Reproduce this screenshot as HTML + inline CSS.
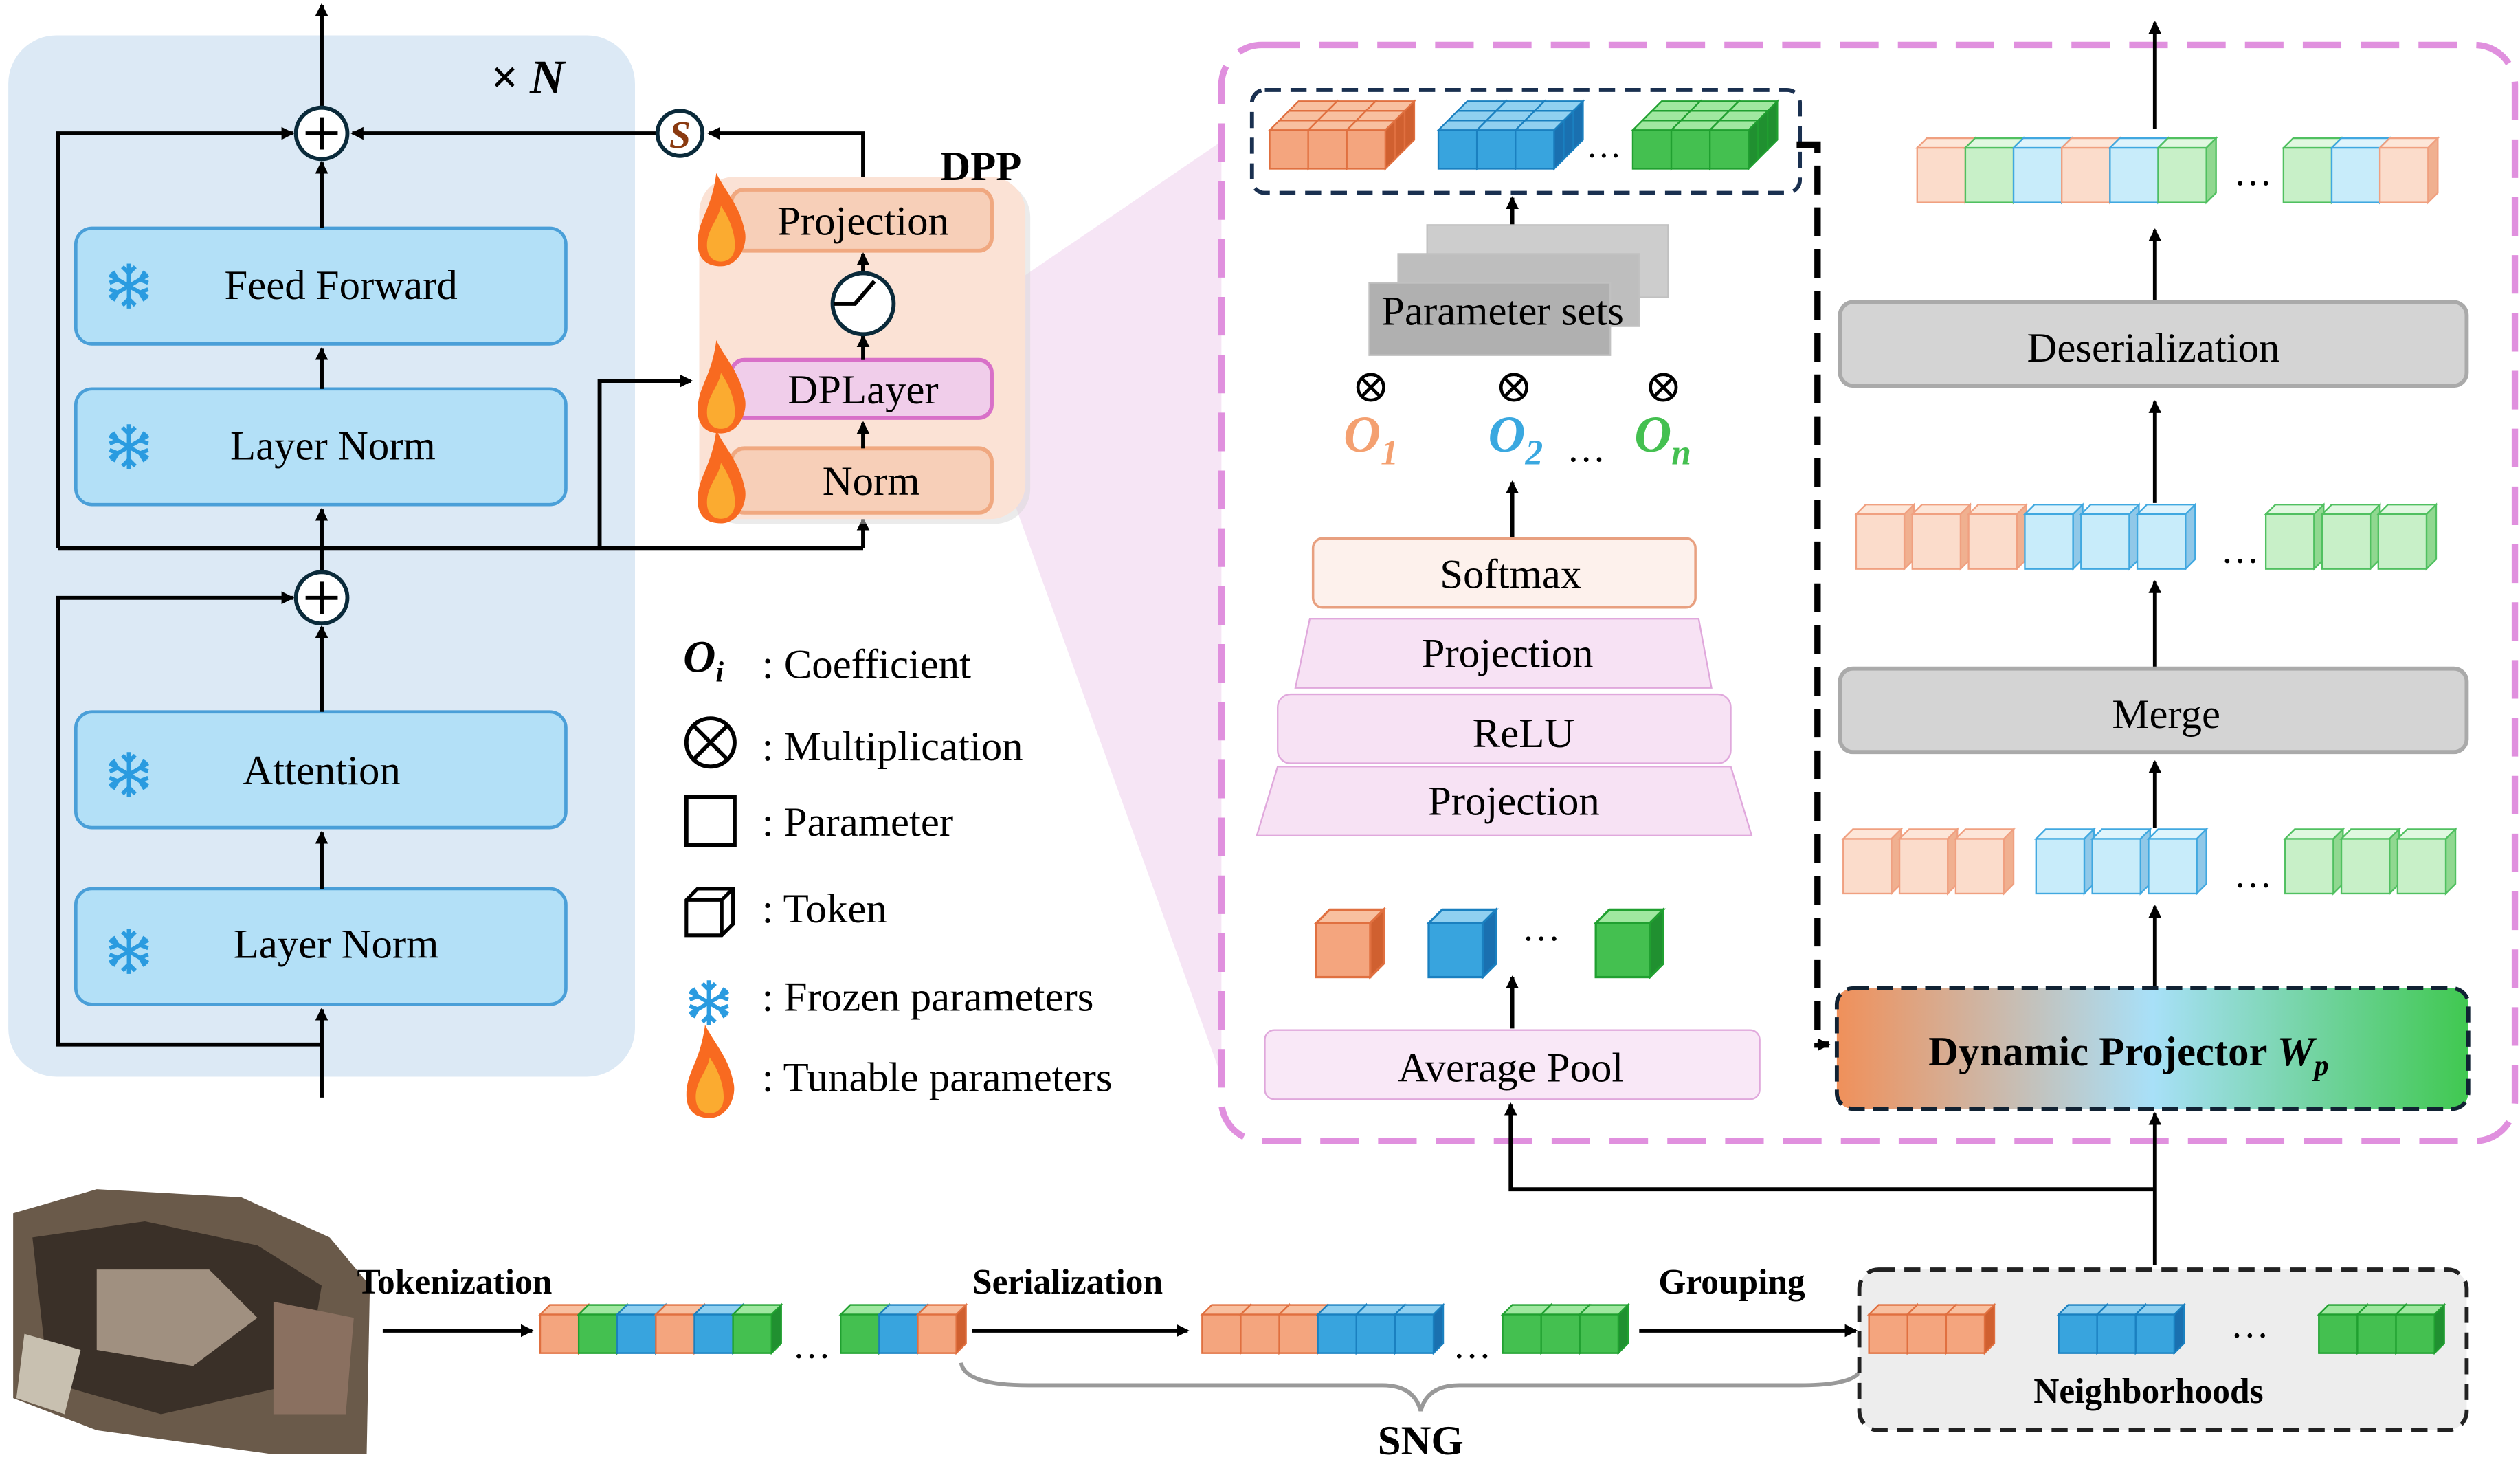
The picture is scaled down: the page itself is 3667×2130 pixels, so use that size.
<!DOCTYPE html>
<html><head><meta charset="utf-8"><style>
html,body{margin:0;padding:0;background:#fff}
svg{display:block}
text{font-family:"Liberation Serif",serif}
</style></head><body>
<svg width="3667" height="2130" viewBox="0 0 1568 911" xmlns="http://www.w3.org/2000/svg">
<defs>
<marker id="ar" markerWidth="8" markerHeight="8" refX="7" refY="4" orient="auto" markerUnits="userSpaceOnUse"><path d="M0,0 L8,4 L0,8z" fill="#000"/></marker>
<g id="co"><path d="M0,6 l6,-6 h24 l-6,6z" fill="#f8c0a0" stroke="#e07040"/><path d="M24,6 l6,-6 v24 l-6,6z" fill="#d06030" stroke="#e07040"/><rect x="0" y="6" width="24" height="24" fill="#f4a57e" stroke="#e07040"/></g>
<g id="cb"><path d="M0,6 l6,-6 h24 l-6,6z" fill="#90d0f0" stroke="#1a80c0"/><path d="M24,6 l6,-6 v24 l-6,6z" fill="#1a70b0" stroke="#1a80c0"/><rect x="0" y="6" width="24" height="24" fill="#38a4de" stroke="#1a80c0"/></g>
<g id="cg"><path d="M0,6 l6,-6 h24 l-6,6z" fill="#a0e8a0" stroke="#20a030"/><path d="M24,6 l6,-6 v24 l-6,6z" fill="#209030" stroke="#20a030"/><rect x="0" y="6" width="24" height="24" fill="#44c050" stroke="#20a030"/></g>
<g id="lo"><path d="M0,6 l6,-6 h30 l-6,6z" fill="#fde6d8" stroke="#f0a080"/><path d="M30,6 l6,-6 v34 l-6,6z" fill="#f0b090" stroke="#f0a080"/><rect x="0" y="6" width="30" height="34" fill="#fbdccb" stroke="#f0a080"/></g>
<g id="lb"><path d="M0,6 l6,-6 h30 l-6,6z" fill="#dff4fc" stroke="#40a8e0"/><path d="M30,6 l6,-6 v34 l-6,6z" fill="#90c8e8" stroke="#40a8e0"/><rect x="0" y="6" width="30" height="34" fill="#c8ecfa" stroke="#40a8e0"/></g>
<g id="lg"><path d="M0,6 l6,-6 h30 l-6,6z" fill="#e0f8e0" stroke="#50c060"/><path d="M30,6 l6,-6 v34 l-6,6z" fill="#90d890" stroke="#50c060"/><rect x="0" y="6" width="30" height="34" fill="#c8f0c8" stroke="#50c060"/></g>
<g id="flame"><g transform="scale(1.45)"><path d="M0,16 C0,6 6,2 8,-14 C12,-6 18,0 20,10 C22,16 18,26 10,26 C3,26 0,22 0,16z" fill="#f86a20"/><path d="M4,17 C4,10 9,6 10,0 C14,6 16,12 16,17 C16,22 13,24 10,24 C6,24 4,21 4,17z" fill="#fbab30"/></g></g>
<g id="snow" stroke="#2a9be0" stroke-width="2.5" fill="none"><path d="M0,-14 V14 M-12,-7 L12,7 M-12,7 L12,-7 M-4,-12 L0,-8 L4,-12 M-4,12 L0,8 L4,12 M-12,-2 L-7,-4 L-10,-9 M12,2 L7,4 L10,9 M-12,2 L-7,4 L-10,9 M12,-2 L7,-4 L10,-9"/></g>
<linearGradient id="dyn" x1="0" x2="1"><stop offset="0" stop-color="#f0905a"/><stop offset="0.5" stop-color="#a8e0f8"/><stop offset="1" stop-color="#40c850"/></linearGradient>
</defs>

<!-- left panel -->
<rect x="5" y="22" width="390" height="648" rx="30" fill="#dce9f5"/>
<text x="305" y="58" font-size="30" font-style="italic" font-weight="bold">× N</text>
<g fill="#b3e0f7" stroke="#4a9fd8" stroke-width="2">
<rect x="47" y="142" width="305" height="72" rx="10"/>
<rect x="47" y="242" width="305" height="72" rx="10"/>
<rect x="47" y="443" width="305" height="72" rx="10"/>
<rect x="47" y="553" width="305" height="72" rx="10"/>
</g>
<use href="#snow" x="80" y="178"/><use href="#snow" x="80" y="278"/><use href="#snow" x="80" y="482"/><use href="#snow" x="80" y="592"/>
<g font-size="26" text-anchor="middle">
<text x="212" y="186">Feed Forward</text>
<text x="207" y="286">Layer Norm</text>
<text x="200" y="488">Attention</text>
<text x="209" y="596">Layer Norm</text>
</g>
<g stroke="#000" stroke-width="2.5" fill="none">
<line x1="200" y1="683" x2="200" y2="628" marker-end="url(#ar)"/>
<polyline points="200,650 36,650 36,372 182,372" marker-end="url(#ar)"/>
<line x1="200" y1="553" x2="200" y2="518" marker-end="url(#ar)"/>
<line x1="200" y1="443" x2="200" y2="390" marker-end="url(#ar)"/>
<line x1="200" y1="356" x2="200" y2="317" marker-end="url(#ar)"/>
<line x1="200" y1="242" x2="200" y2="217" marker-end="url(#ar)"/>
<line x1="200" y1="142" x2="200" y2="101" marker-end="url(#ar)"/>
<line x1="200" y1="67" x2="200" y2="3" marker-end="url(#ar)"/>
<polyline points="36,341 36,83 182,83" marker-end="url(#ar)"/>
<line x1="36" y1="341" x2="537" y2="341"/>
<line x1="537" y1="341" x2="537" y2="323" marker-end="url(#ar)"/>
<polyline points="373,341 373,237 430,237" marker-end="url(#ar)"/>
<line x1="409" y1="83" x2="219" y2="83" marker-end="url(#ar)"/>
</g>
<circle cx="200" cy="83" r="16" fill="#fff" stroke="#0a2a3a" stroke-width="2.5"/>
<path d="M190,83 h20 M200,73 v20" stroke="#000" stroke-width="2.5"/>
<circle cx="200" cy="372" r="16" fill="#fff" stroke="#0a2a3a" stroke-width="2.5"/>
<path d="M190,372 h20 M200,362 v20" stroke="#000" stroke-width="2.5"/>
<circle cx="423" cy="83" r="14" fill="#fff" stroke="#0a2a3a" stroke-width="2.5"/>
<text x="423" y="92" font-size="24" font-style="italic" font-weight="bold" fill="#8a3a10" text-anchor="middle">S</text>

<!-- zoom wedge -->
<polygon points="625,180 760,88 760,670 630,310" fill="#f5e1f3" opacity="0.85"/>

<!-- DPP -->
<rect x="438" y="113" width="203" height="213" rx="22" fill="#d8d8d8" opacity="0.5"/>
<rect x="435" y="110" width="203" height="213" rx="22" fill="#fbe2d5"/>
<text x="585" y="112" font-size="26" font-weight="bold" font-family="Liberation Sans,sans-serif">DPP</text>
<polyline points="537,110 537,83 441,83" stroke="#000" stroke-width="2.5" fill="none" marker-end="url(#ar)"/>
<rect x="455" y="118" width="162" height="38" rx="8" fill="#f7cfb8" stroke="#f0a880" stroke-width="2.5"/>
<rect x="455" y="224" width="162" height="36" rx="8" fill="#f0cdea" stroke="#d870c8" stroke-width="2.5"/>
<rect x="455" y="279" width="162" height="40" rx="8" fill="#f7cfb8" stroke="#f0a880" stroke-width="2.5"/>
<text x="537" y="146" font-size="26" text-anchor="middle">Projection</text>
<text x="537" y="251" font-size="26" text-anchor="middle">DPLayer</text>
<text x="542" y="308" font-size="26" text-anchor="middle">Norm</text>
<use href="#flame" x="434" y="128"/><use href="#flame" x="434" y="232"/><use href="#flame" x="434" y="288"/>
<g stroke="#000" stroke-width="2.5" fill="none">
<line x1="537" y1="279" x2="537" y2="263" marker-end="url(#ar)"/>
<line x1="537" y1="224" x2="537" y2="209" marker-end="url(#ar)"/>
<line x1="537" y1="170" x2="537" y2="158" marker-end="url(#ar)"/>
</g>
<ellipse cx="537" cy="189" rx="19" ry="19" fill="#fff" stroke="#0a2a3a" stroke-width="2.5"/>
<path d="M519,189 h13 l12,-14" stroke="#000" stroke-width="2.5" fill="none"/>

<!-- legend -->
<text x="425" y="418" font-size="28" font-style="italic" font-weight="bold">O<tspan font-size="18" dy="6">i</tspan></text>
<g font-size="26">
<text x="474" y="422">: Coefficient</text>
<text x="474" y="473">: Multiplication</text>
<text x="474" y="520">: Parameter</text>
<text x="474" y="574">: Token</text>
<text x="474" y="629">: Frozen parameters</text>
<text x="474" y="679">: Tunable parameters</text>
</g>
<circle cx="442" cy="462" r="15" fill="none" stroke="#000" stroke-width="2.5"/>
<path d="M431,451 l22,22 M453,451 l-22,22" stroke="#000" stroke-width="2.5"/>
<rect x="427" y="496" width="30" height="30" fill="none" stroke="#000" stroke-width="2.5"/>
<path d="M427,560 l7,-7 h22 v22 l-7,7 h-22z M427,560 h22 v22 M449,560 l7,-7" fill="none" stroke="#000" stroke-width="2.2"/>
<use href="#snow" x="441" y="624"/>
<use href="#flame" x="427" y="658"/>

<!-- right dashed box -->
<rect x="760" y="28" width="805" height="682" rx="25" fill="none" stroke="#e090de" stroke-width="4" stroke-dasharray="24,12"/>

<!-- top param group -->
<rect x="779" y="56" width="341" height="64" rx="8" fill="none" stroke="#1a3050" stroke-width="2.5" stroke-dasharray="10,6"/>
<g>
<use href="#co" x="802" y="63"/><use href="#co" x="826" y="63"/><use href="#co" x="850" y="63"/>
<use href="#co" x="796" y="69"/><use href="#co" x="820" y="69"/><use href="#co" x="844" y="69"/>
<use href="#co" x="790" y="75"/><use href="#co" x="814" y="75"/><use href="#co" x="838" y="75"/>
<use href="#cb" x="907" y="63"/><use href="#cb" x="931" y="63"/><use href="#cb" x="955" y="63"/>
<use href="#cb" x="901" y="69"/><use href="#cb" x="925" y="69"/><use href="#cb" x="949" y="69"/>
<use href="#cb" x="895" y="75"/><use href="#cb" x="919" y="75"/><use href="#cb" x="943" y="75"/>
<use href="#cg" x="1028" y="63"/><use href="#cg" x="1052" y="63"/><use href="#cg" x="1076" y="63"/>
<use href="#cg" x="1022" y="69"/><use href="#cg" x="1046" y="69"/><use href="#cg" x="1070" y="69"/>
<use href="#cg" x="1016" y="75"/><use href="#cg" x="1040" y="75"/><use href="#cg" x="1064" y="75"/>
</g>
<text x="998" y="98" font-size="22" text-anchor="middle">…</text>
<line x1="941" y1="140" x2="941" y2="123" stroke="#000" stroke-width="2.5" marker-end="url(#ar)"/>
<!-- parameter sets -->
<g fill="#c8c8c8" stroke="#bbb" opacity="0.9">
<rect x="888" y="140" width="150" height="45"/><rect x="870" y="158" width="150" height="45" fill="#b8b8b8"/><rect x="852" y="176" width="150" height="45" fill="#a8a8a8"/>
</g>
<text x="935" y="202" font-size="26" text-anchor="middle">Parameter sets</text>
<g stroke="#000" stroke-width="2" fill="none">
<circle cx="853" cy="241" r="8"/><path d="M847,235 l12,12 M859,235 l-12,12"/>
<circle cx="942" cy="241" r="8"/><path d="M936,235 l12,12 M948,235 l-12,12"/>
<circle cx="1035" cy="241" r="8"/><path d="M1029,235 l12,12 M1041,235 l-12,12"/>
</g>
<g font-size="32" font-style="italic" font-weight="bold">
<text x="836" y="281" fill="#f4a070">O<tspan font-size="22" dy="8">1</tspan></text>
<text x="926" y="281" fill="#3aa8e0">O<tspan font-size="22" dy="8">2</tspan></text>
<text x="1017" y="281" fill="#44c050">O<tspan font-size="22" dy="8">n</tspan></text>
</g>
<text x="975" y="287" font-size="24">…</text>
<line x1="941" y1="335" x2="941" y2="300" stroke="#000" stroke-width="2.5" marker-end="url(#ar)"/>
<rect x="817" y="335" width="238" height="43" rx="6" fill="#fdf1ec" stroke="#e8a080" stroke-width="1.5"/>
<text x="940" y="366" font-size="26" text-anchor="middle">Softmax</text>
<polygon points="815,385 1057,385 1065,428 806,428" fill="#f7e2f4" stroke="#e0a8dc"/>
<text x="938" y="415" font-size="26" text-anchor="middle">Projection</text>
<rect x="795" y="432" width="282" height="43" rx="8" fill="#f7e2f4" stroke="#e0a8dc"/>
<text x="948" y="465" font-size="26" text-anchor="middle">ReLU</text>
<polygon points="795,477 1077,477 1090,520 782,520" fill="#f7e2f4" stroke="#e0a8dc"/>
<text x="942" y="507" font-size="26" text-anchor="middle">Projection</text>
<use href="#co" x="819" y="566" transform="translate(819,566) scale(1.4) translate(-819,-566)"/>
<use href="#cb" x="889" y="566" transform="translate(889,566) scale(1.4) translate(-889,-566)"/>
<use href="#cg" x="993" y="566" transform="translate(993,566) scale(1.4) translate(-993,-566)"/>
<text x="947" y="585" font-size="24">…</text>
<line x1="941" y1="640" x2="941" y2="608" stroke="#000" stroke-width="2.5" marker-end="url(#ar)"/>
<rect x="787" y="641" width="308" height="43" rx="6" fill="#f9e8f7" stroke="#e0a8dc"/>
<text x="940" y="673" font-size="26" text-anchor="middle">Average Pool</text>

<!-- dashed thick arrow -->
<polyline points="1118,90 1131,90 1131,650 1138,650" fill="none" stroke="#000" stroke-width="4" stroke-dasharray="18,8" marker-end="url(#ar)"/>

<!-- right column -->
<g>
<use href="#lo" x="1193" y="86"/><use href="#lg" x="1223" y="86"/><use href="#lb" x="1253" y="86"/><use href="#lo" x="1283" y="86"/><use href="#lb" x="1313" y="86"/><use href="#lg" x="1343" y="86"/>
<use href="#lg" x="1421" y="86"/><use href="#lb" x="1451" y="86"/><use href="#lo" x="1481" y="86"/>
</g>
<text x="1390" y="115" font-size="24">…</text>
<line x1="1341" y1="80" x2="1341" y2="14" stroke="#000" stroke-width="2.5" marker-end="url(#ar)"/>
<line x1="1341" y1="188" x2="1341" y2="143" stroke="#000" stroke-width="2.5" marker-end="url(#ar)"/>
<rect x="1145" y="188" width="390" height="52" rx="8" fill="#d4d4d4" stroke="#aaa" stroke-width="2.5"/>
<text x="1340" y="225" font-size="26" text-anchor="middle">Deserialization</text>
<line x1="1341" y1="313" x2="1341" y2="250" stroke="#000" stroke-width="2.5" marker-end="url(#ar)"/>
<g>
<use href="#lo" x="1155" y="314"/><use href="#lo" x="1190" y="314"/><use href="#lo" x="1225" y="314"/>
<use href="#lb" x="1260" y="314" /><use href="#lb" x="1295" y="314"/><use href="#lb" x="1330" y="314"/>
<use href="#lg" x="1410" y="314"/><use href="#lg" x="1445" y="314"/><use href="#lg" x="1480" y="314"/>
</g>
<text x="1382" y="350" font-size="24">…</text>
<line x1="1341" y1="416" x2="1341" y2="362" stroke="#000" stroke-width="2.5" marker-end="url(#ar)"/>
<rect x="1145" y="416" width="390" height="52" rx="8" fill="#d4d4d4" stroke="#aaa" stroke-width="2.5"/>
<text x="1348" y="453" font-size="26" text-anchor="middle">Merge</text>
<line x1="1341" y1="515" x2="1341" y2="474" stroke="#000" stroke-width="2.5" marker-end="url(#ar)"/>
<g>
<use href="#lo" x="1147" y="516"/><use href="#lo" x="1182" y="516"/><use href="#lo" x="1217" y="516"/>
<use href="#lb" x="1267" y="516"/><use href="#lb" x="1302" y="516"/><use href="#lb" x="1337" y="516"/>
<use href="#lg" x="1422" y="516"/><use href="#lg" x="1457" y="516"/><use href="#lg" x="1492" y="516"/>
</g>
<text x="1390" y="552" font-size="24">…</text>
<line x1="1341" y1="615" x2="1341" y2="564" stroke="#000" stroke-width="2.5" marker-end="url(#ar)"/>
<rect x="1143" y="615" width="393" height="75" rx="10" fill="url(#dyn)" stroke="#123" stroke-width="2.5" stroke-dasharray="10,5"/>
<text x="1200" y="663" font-size="26" font-weight="bold">Dynamic Projector <tspan font-style="italic">W</tspan><tspan font-style="italic" font-size="18" dy="6">p</tspan></text>

<!-- connectors bottom -->
<g stroke="#000" stroke-width="2.5" fill="none">
<line x1="1341" y1="787" x2="1341" y2="693" marker-end="url(#ar)"/>
<polyline points="1341,740 940,740 940,687" marker-end="url(#ar)"/>
<line x1="238" y1="828" x2="331" y2="828" marker-end="url(#ar)"/>
<line x1="605" y1="828" x2="739" y2="828" marker-end="url(#ar)"/>
<line x1="1020" y1="828" x2="1155" y2="828" marker-end="url(#ar)"/>
</g>

<!-- scene image placeholder -->
<g>
<path d="M8,755 L60,740 L150,745 L205,770 L230,800 L228,905 L170,905 L60,890 L8,870z" fill="#6a5a4a"/>
<path d="M20,770 L90,760 L160,775 L200,800 L190,860 L100,880 L30,860z" fill="#3a3028"/>
<path d="M60,790 L130,790 L160,820 L120,850 L60,840z" fill="#a09080"/>
<path d="M15,830 L50,840 L40,880 L10,870z" fill="#c8c0b0"/>
<path d="M170,810 L220,820 L215,880 L170,880z" fill="#8a7060"/>
</g>

<g font-size="22" font-weight="bold">
<text x="222" y="805">Tokenization</text>
<text x="605" y="805">Serialization</text>
<text x="1032" y="805">Grouping</text>
</g>
<g>
<use href="#co" x="336" y="812"/><use href="#cg" x="360" y="812"/><use href="#cb" x="384" y="812"/><use href="#co" x="408" y="812"/><use href="#cb" x="432" y="812"/><use href="#cg" x="456" y="812"/>
<use href="#cg" x="523" y="812"/><use href="#cb" x="547" y="812"/><use href="#co" x="571" y="812"/>
<use href="#co" x="748" y="812"/><use href="#co" x="772" y="812"/><use href="#co" x="796" y="812"/><use href="#cb" x="820" y="812"/><use href="#cb" x="844" y="812"/><use href="#cb" x="868" y="812"/>
<use href="#cg" x="935" y="812"/><use href="#cg" x="959" y="812"/><use href="#cg" x="983" y="812"/>
</g>
<text x="493" y="845" font-size="24">…</text>
<text x="904" y="845" font-size="24">…</text>
<path d="M598,848 Q600,862 640,862 H860 Q880,862 884,878 Q888,862 908,862 H1120 Q1155,862 1158,852" fill="none" stroke="#999" stroke-width="2.5"/>
<text x="884" y="905" font-size="26" font-weight="bold" font-family="Liberation Sans,sans-serif" text-anchor="middle">SNG</text>

<rect x="1157" y="790" width="378" height="100" rx="12" fill="#ededed" stroke="#222" stroke-width="2.5" stroke-dasharray="10,6"/>
<use href="#co" x="1163" y="812"/><use href="#co" x="1187" y="812"/><use href="#co" x="1211" y="812"/>
<use href="#cb" x="1281" y="812"/><use href="#cb" x="1305" y="812"/><use href="#cb" x="1329" y="812"/>
<use href="#cg" x="1443" y="812"/><use href="#cg" x="1467" y="812"/><use href="#cg" x="1491" y="812"/>
<text x="1388" y="832" font-size="24">…</text>
<text x="1337" y="873" font-size="22" font-weight="bold" text-anchor="middle">Neighborhoods</text>
</svg>
</body></html>
